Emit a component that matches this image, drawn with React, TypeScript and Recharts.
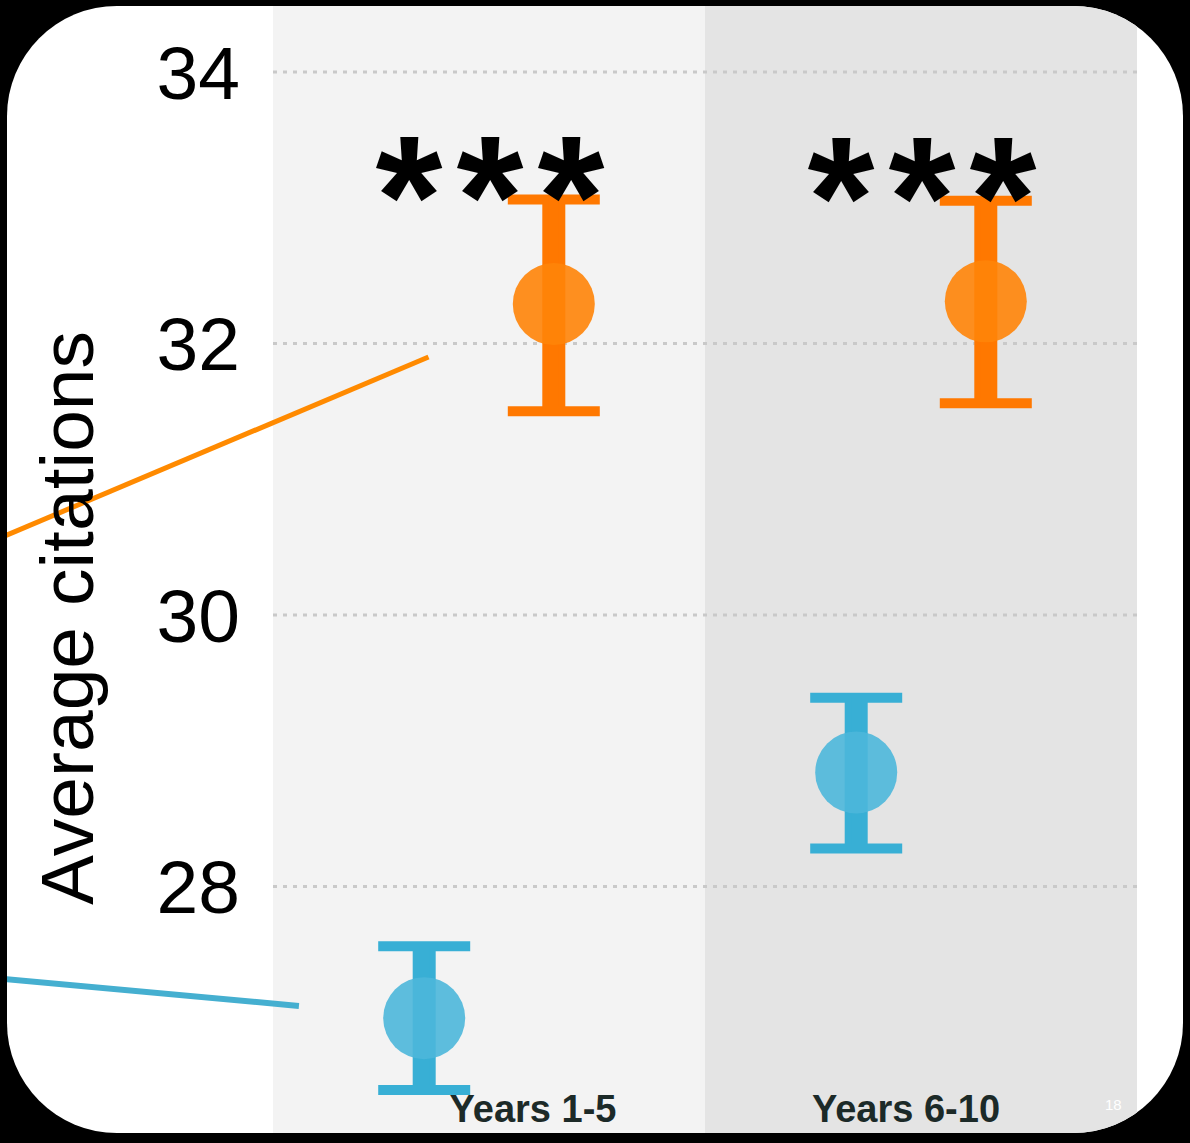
import {
  CartesianGrid,
  ErrorBar,
  Label,
  ReferenceArea,
  ReferenceLine,
  Scatter,
  ScatterChart,
  XAxis,
  YAxis,
} from 'recharts'

// values
const categories = ['Years 1-5', 'Years 6-10']
const blueMean = [27.03, 28.84]
const blueLow = [26.5, 28.28]
const blueHigh = [27.56, 29.39]
const orangeMean = [32.29, 32.31]
const orangeLow = [31.5, 31.56]
const orangeHigh = [33.06, 33.05]
const significance = ['***', '***']
const yTicks = [26, 28, 30, 32, 34]

// pointer lines coming in from the (cropped) legend on the left, in data units
const orangePointer = [
  { x: -1.13, y: 30.57 },
  { x: -0.14, y: 31.9 },
]
const bluePointer = [
  { x: -1.13, y: 27.32 },
  { x: -0.44, y: 27.12 },
]

const FONT = '"Liberation Sans", Arial, Helvetica, sans-serif'
const ORANGE = '#ff8408'
const ORANGE_BAR = '#ff7800'
const BLUE = '#4db7da'
const BLUE_BAR = '#38afd5'
const DODGE = 0.15
const bandFills = ['#f3f3f3', '#e4e4e4']

function toPoints(mean: number[], low: number[], high: number[], shift: number) {
  return mean.map((m, i) => ({
    x: i + shift,
    y: m,
    err: [m - low[i], high[i] - m],
  }))
}

const bluePoints = toPoints(blueMean, blueLow, blueHigh, -DODGE)
const orangePoints = toPoints(orangeMean, orangeLow, orangeHigh, DODGE)
// significance stars sit on the band centre, level with the top of the orange bar
const starPoints = significance.map((s, i) => ({ x: i, y: orangeHigh[i], text: s }))

const dot = (fill: string) => (props: any) =>
  <circle cx={props.cx} cy={props.cy} r={41} fill={fill} fillOpacity={0.9} />

function StarShape(props: any) {
  return (
    <text
      x={props.cx + 8}
      y={props.cy + 56}
      textAnchor="middle"
      fontFamily={FONT}
      fontWeight="bold"
      fontSize={172}
      letterSpacing={14}
      fill="#000"
    >
      {props.payload.text}
    </text>
  )
}

// labels are not centred on the bands in the original slide
const labelShift = [44, -15]

function YearTick(props: any) {
  const { x, y, payload } = props
  const i = Math.round(payload.value)
  return (
    <text
      x={x + labelShift[i]}
      y={y - 36}
      textAnchor="middle"
      fontFamily={FONT}
      fontWeight="bold"
      fontSize={38}
      fill="#1c2a28"
    >
      {categories[i]}
    </text>
  )
}

function AxisTitle({ viewBox }: any) {
  const cx = viewBox.x + 93
  const cy = viewBox.y + viewBox.height * 0.532
  return (
    <text
      x={cx}
      y={cy}
      transform={`rotate(-90, ${cx}, ${cy})`}
      textAnchor="middle"
      fontFamily={FONT}
      fontSize={75}
      fill="#000"
    >
      Average citations
    </text>
  )
}

export default function App() {
  return (
    <div
      style={{
        position: 'absolute',
        left: 0,
        top: 0,
        width: 1190,
        height: 1143,
        background: '#000',
        overflow: 'hidden',
      }}
    >
      <div
        style={{
          position: 'absolute',
          left: 7,
          top: 6,
          width: 1176,
          height: 1127,
          borderRadius: 110,
          background: '#fff',
          overflow: 'hidden',
        }}
      >
        <div style={{ position: 'absolute', left: -7, top: -6 }}>
          <ScatterChart
            width={1190}
            height={1200}
            margin={{ top: 4, right: 53, bottom: 0, left: 0 }}
          >
            {categories.map((c, i) => (
              <ReferenceArea
                key={c}
                x1={i - 0.5}
                x2={i + 0.5}
                fill={bandFills[i]}
                fillOpacity={1}
                stroke="none"
                zIndex={-150}
              />
            ))}
            <CartesianGrid
              vertical={false}
              stroke="#c9c9c9"
              strokeWidth={3}
              strokeDasharray="4 6"
            />
            <XAxis
              type="number"
              dataKey="x"
              domain={[-0.5, 1.5]}
              ticks={[0, 1]}
              interval={0}
              height={42}
              axisLine={false}
              tickLine={false}
              tickSize={0}
              tickMargin={0}
              tick={<YearTick />}
            />
            <YAxis
              type="number"
              dataKey="y"
              domain={[26, 34.5]}
              ticks={yTicks}
              interval={0}
              width={273}
              axisLine={false}
              tickLine={false}
              tickSize={0}
              tickMargin={33}
              tick={{ fontSize: 75, fill: '#000', fontFamily: FONT }}
            >
              <Label content={<AxisTitle />} />
            </YAxis>
            <Scatter
              data={bluePoints}
              isAnimationActive={false}
              shape={dot(BLUE)}
            >
              <ErrorBar dataKey="err" direction="y" width={0} strokeWidth={23} stroke={BLUE_BAR} isAnimationActive={false} />
              <ErrorBar dataKey="err" direction="y" width={46} strokeWidth={10} stroke={BLUE_BAR} isAnimationActive={false} />
            </Scatter>
            <Scatter
              data={orangePoints}
              isAnimationActive={false}
              shape={dot(ORANGE)}
            >
              <ErrorBar dataKey="err" direction="y" width={0} strokeWidth={23} stroke={ORANGE_BAR} isAnimationActive={false} />
              <ErrorBar dataKey="err" direction="y" width={46} strokeWidth={10} stroke={ORANGE_BAR} isAnimationActive={false} />
            </Scatter>
            <Scatter
              data={starPoints}
              isAnimationActive={false}
              shape={<StarShape />}
              zIndex={2500}
            />
            <ReferenceLine segment={orangePointer} stroke="#ff8a00" strokeWidth={5} ifOverflow="visible" />
            <ReferenceLine segment={bluePointer} stroke="#45afd0" strokeWidth={6} ifOverflow="visible" />
          </ScatterChart>
        </div>
      </div>
      <span
        style={{
          position: 'absolute',
          left: 1105,
          top: 1096,
          fontFamily: FONT,
          fontSize: 15,
          color: '#fff',
        }}
      >
        18
      </span>
    </div>
  )
}
